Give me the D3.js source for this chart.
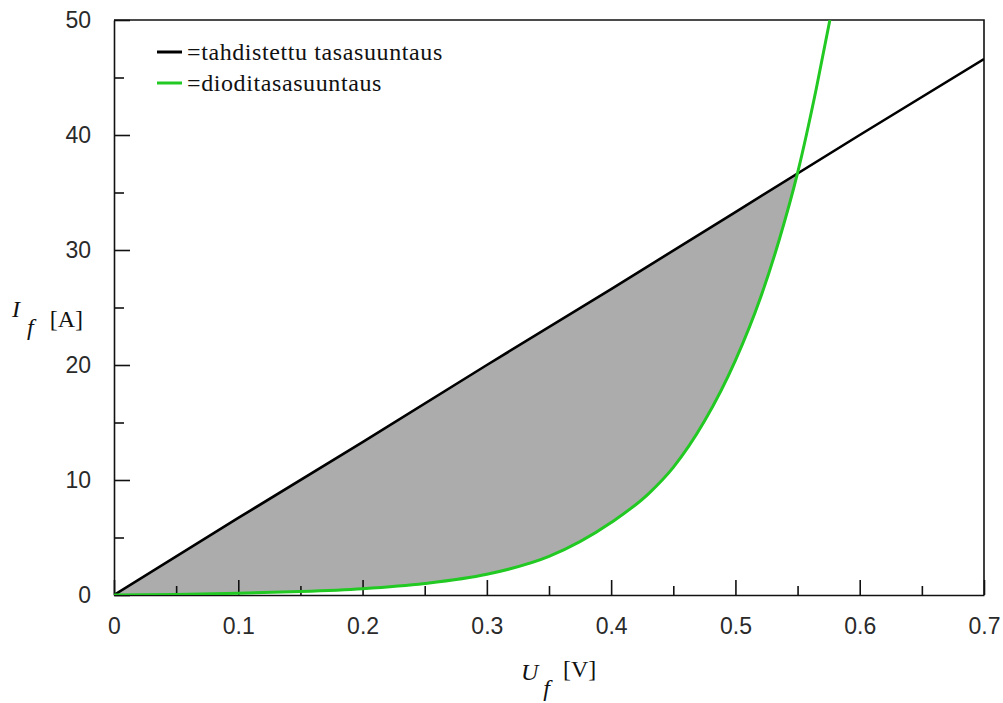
<!DOCTYPE html>
<html>
<head>
<meta charset="utf-8">
<script src="https://cdn.jsdelivr.net/npm/d3@7"></script>
<style>
  body { margin: 0; background: #fff; }
  .tick text { font-family: "Liberation Sans", Arial, sans-serif; font-size: 23px; fill: #2a2a2a; }
  .serif { font-family: "Liberation Serif", "Times New Roman", serif; fill: #111; }
</style>
</head>
<body>
<div id="chart"></div>
<script>
// black: tahdistettu tasasuuntaus (straight line)
const blackU = [0, 0.1, 0.2, 0.3, 0.4, 0.5, 0.6, 0.7];
const blackI = [0, 6.7, 13.3, 20.0, 26.6, 33.3, 40.0, 46.6];

// green: diode curve
const diodeU = [0, 0.05, 0.1, 0.15, 0.2, 0.25, 0.3, 0.35, 0.4, 0.43, 0.45, 0.475, 0.5, 0.52, 0.535, 0.55, 0.565, 0.576];
const diodeI = [0, 0.05, 0.15, 0.3, 0.55, 1.0, 1.8, 3.35, 6.3, 8.8, 11.1, 15.1, 20.4, 25.8, 30.8, 36.7, 44.0, 50.0];

const xMajor = [0, 0.1, 0.2, 0.3, 0.4, 0.5, 0.6, 0.7];
const xMinor = [0.05, 0.15, 0.25, 0.35, 0.45, 0.55, 0.65];
const yMajor = [0, 10, 20, 30, 40, 50];
const yMinor = [5, 15, 25, 35, 45];

const legendNames = ["=tahdistettu tasasuuntaus", "=dioditasasuuntaus"];
const legendColors = ["#000000", "#22c922"];

const W = 1003, H = 703;
const m = { left: 114, right: 19, top: 20, bottom: 108 };

const svg = d3.select("#chart").append("svg")
    .attr("width", W).attr("height", H);

const x = d3.scaleLinear().domain([0, 0.7]).range([m.left, W - m.right]);
const y = d3.scaleLinear().domain([0, 50]).range([H - m.bottom, m.top]);

svg.append("clipPath").attr("id", "plot")
  .append("rect")
    .attr("x", x(0)).attr("y", y(50))
    .attr("width", x(0.7) - x(0)).attr("height", y(0) - y(50));

// shaded area between the two curves, up to the crossing
const blackAt = d3.scaleLinear().domain(blackU).range(blackI);
const fillPts = diodeU.map((u, i) => [u, diodeI[i]]).filter(d => d[0] <= 0.55);

svg.append("path")
    .datum(fillPts)
    .attr("d", d3.area()
      .x(d => x(d[0]))
      .y0(d => y(d[1]))
      .y1(d => y(blackAt(d[0])))
      .curve(d3.curveMonotoneX))
    .attr("fill", "#acacac");

// axes, ticks inward
const gx = svg.append("g").attr("transform", `translate(0,${y(0)})`);
gx.call(d3.axisBottom(x).tickValues(xMajor).tickSizeInner(-15).tickSizeOuter(0)
    .tickPadding(23).tickFormat(d => d === 0 ? "0" : d3.format(".1f")(d)));
gx.append("g").call(d3.axisBottom(x).tickValues(xMinor).tickSizeInner(-9).tickSizeOuter(0).tickFormat(""))
  .select(".domain").remove();

const gy = svg.append("g").attr("transform", `translate(${x(0)},0)`);
gy.call(d3.axisLeft(y).tickValues(yMajor).tickSizeInner(-16).tickSizeOuter(0).tickPadding(23));
gy.append("g").call(d3.axisLeft(y).tickValues(yMinor).tickSizeInner(-10).tickSizeOuter(0).tickFormat(""))
  .select(".domain").remove();

svg.selectAll(".domain, .tick line").attr("stroke", "#111").attr("stroke-width", 1.6);

// frame top and right
svg.append("path")
    .attr("d", `M${x(0)},${y(50)}H${x(0.7)}V${y(0)}`)
    .attr("fill", "none").attr("stroke", "#111").attr("stroke-width", 1.6);

const line = d3.line().x(d => x(d[0])).y(d => y(d[1]));

svg.append("path")
    .datum(blackU.map((u, i) => [u, blackI[i]]))
    .attr("d", line)
    .attr("fill", "none").attr("stroke", legendColors[0]).attr("stroke-width", 2.6)
    .attr("clip-path", "url(#plot)");

svg.append("path")
    .datum(diodeU.map((u, i) => [u, diodeI[i]]))
    .attr("d", line.curve(d3.curveMonotoneX))
    .attr("fill", "none").attr("stroke", legendColors[1]).attr("stroke-width", 3)
    .attr("clip-path", "url(#plot)");

// legend
const leg = svg.append("g").attr("transform", "translate(157,52)");
legendNames.forEach((name, i) => {
  const g = leg.append("g").attr("transform", `translate(0,${i * 31})`);
  g.append("line").attr("x1", 0).attr("x2", 25)
    .attr("stroke", legendColors[i]).attr("stroke-width", 3);
  g.append("text").attr("class", "serif").attr("x", 30).attr("y", 8)
    .style("font-size", "24px").style("letter-spacing", "0.6px").text(name);
});

// axis titles
const yt = svg.append("text").attr("class", "serif").style("font-size", "24px")
    .attr("x", 12).attr("y", 317);
yt.append("tspan").style("font-style", "italic").text("I");
yt.append("tspan").style("font-style", "italic").attr("dx", 7).attr("dy", 18).text("f");
yt.append("tspan").attr("dx", 16).attr("dy", -8).text("[A]");

const xt = svg.append("text").attr("class", "serif").style("font-size", "24px")
    .attr("x", 521).attr("y", 680);
xt.append("tspan").style("font-style", "italic").text("U");
xt.append("tspan").style("font-style", "italic").attr("dx", 5).attr("dy", 16).text("f");
xt.append("tspan").attr("dx", 13).attr("dy", -19).text("[V]");
</script>
</body>
</html>
